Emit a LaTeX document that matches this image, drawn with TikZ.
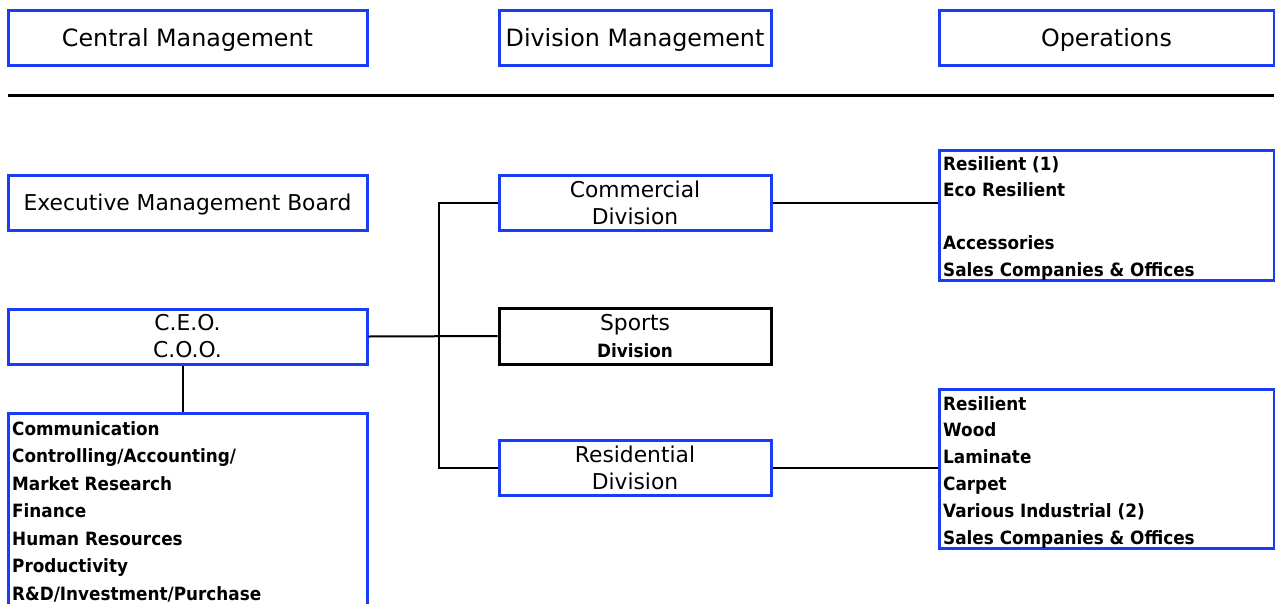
\documentclass[tikz,border=0pt]{standalone}
\usepackage{fontspec}
\setmainfont{DejaVu Sans}
\newfontfamily\itemfont{DejaVu Sans}[FakeStretch=0.92]
\definecolor{boxblue}{RGB}{25,60,245}
\begin{document}
\begin{tikzpicture}[x=1pt, y=-1pt,
    box/.style={draw=boxblue, line width=3pt, inner sep=0pt, align=center,
      minimum height=55pt, font=\fontsize{21.8}{27}\selectfont},
    headbox/.style={box, text depth=0pt, font=\fontsize{23.8}{27}\selectfont},
    listbox/.style={draw=boxblue, line width=3pt, inner sep=0pt, minimum width=335pt},
    link/.style={draw=black, line width=2pt},
    item/.style={anchor=base west, inner sep=0pt, font=\fontsize{18.3}{20}\itemfont\bfseries}]
  \clip (0,0) rectangle (1275,603);
  \fill[white] (0,0) rectangle (1275,603);
  \node[headbox, minimum width=359pt] (central) at (187.5,37.5) {Central Management};
  \node[headbox, minimum width=272pt] (divmgmt) at (635,37.5) {Division Management};
  \node[headbox, minimum width=335pt] (oper) at (1106.5,37.5) {Operations};
  \coordinate (rulel) at (8,95);
  \coordinate (ruler) at (1274,95);
  \draw[line width=3pt] (rulel) -- (ruler);
  \node[box, minimum width=359pt, text depth=0pt] (board) at (187.5,202.5) {Executive Management Board};
  \node[box, minimum width=359pt] (ceo) at (187.5,336.5) {C.E.O.\\C.O.O.};
  \node[box, minimum width=359pt, minimum height=227pt] (staff) at (187.5,526.5) {};
  \foreach \t [count=\i from 0] in {Communication, Controlling/Accounting/, Market Research,
      Finance, Human Resources, Productivity, R\&D/Investment/Purchase}
    \node[item] (staff\i) at (12,435+27.5*\i) {\t};
  \node[box, minimum width=272pt] (comm) at (635,202.5) {Commercial\\Division};
  \node[box, draw=black, minimum width=272pt, minimum height=56pt] (sports) at (635,336)
    {Sports\\{\fontsize{18.3}{20}\itemfont\bfseries Division}};
  \node[box, minimum width=272pt] (resi) at (635,467.5) {Residential\\Division};
  \node[listbox, minimum height=130pt] (opsa) at (1106.5,215) {};
  \foreach \t/\k in {Resilient (1)/0, Eco Resilient/1, Accessories/3, Sales Companies \& Offices/4}
    \node[item] (opsa\k) at (943,170+26.5*\k) {\t};
  \node[listbox, minimum height=159pt] (opsb) at (1106.5,468.5) {};
  \foreach \t [count=\i from 0] in {Resilient, Wood, Laminate, Carpet, Various Industrial (2),
      Sales Companies \& Offices}
    \node[item] (opsb\i) at (943,410+26.8*\i) {\t};
  \coordinate (bus) at (439,336.5);
  \draw[link] ([xshift=-5pt]ceo.south) -- ([xshift=-5pt]staff.north);
  \draw[link] (ceo.east) -- (sports.west);
  \draw[link] (comm.west) -| (bus) |- (resi.west);
  \draw[link] (comm.east) -- (opsa.west |- comm.east);
  \draw[link] (resi.east) -- (opsb.west |- resi.east);
\end{tikzpicture}
\end{document}
